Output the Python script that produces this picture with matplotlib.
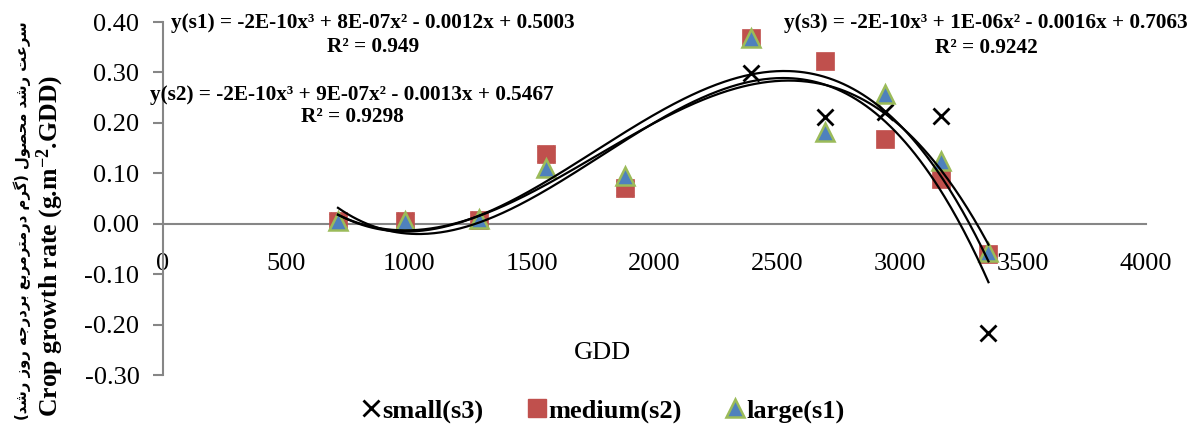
import numpy as np
import matplotlib
matplotlib.use("Agg")
import matplotlib.pyplot as plt
from matplotlib.ticker import FuncFormatter
from matplotlib.lines import Line2D

# ---- data -------------------------------------------------------------
gdd = [712, 985, 1286, 1557, 1878, 2391, 2692, 2936, 3164, 3359]
small_s3 = [0.005, 0.005, 0.008, 0.139, 0.070, 0.298, 0.212, 0.222, 0.214, -0.216]
medium_s2 = [0.005, 0.005, 0.008, 0.139, 0.070, 0.368, 0.322, 0.168, 0.089, -0.060]
large_s1 = [0.006, 0.005, 0.010, 0.111, 0.094, 0.368, 0.181, 0.257, 0.124, -0.056]

eq_s1 = ["y(s1) = -2E-10x³ + 8E-07x² - 0.0012x + 0.5003", "R² = 0.949"]
eq_s2 = ["y(s2) = -2E-10x³ + 9E-07x² - 0.0013x + 0.5467", "R² = 0.9298"]
eq_s3 = ["y(s3) = -2E-10x³ + 1E-06x² - 0.0016x + 0.7063", "R² = 0.9242"]

x_ticks = [0, 500, 1000, 1500, 2000, 2500, 3000, 3500, 4000]
y_ticks = [-0.30, -0.20, -0.10, 0.00, 0.10, 0.20, 0.30, 0.40]

ylabel_fa = "سرعت رشد محصول (گرم درمترمربع بردرجه روز رشد)"
ylabel_en = r"Crop growth rate (g.m$^{\mathbf{-2}}$.GDD)"
xlabel = "GDD"

# ---- Persian shaping (presentation forms, visual order) ---------------
FORMS = {
    'ب': ('\uFE8F', '\uFE90', '\uFE91', '\uFE92'),
    'ت': ('\uFE95', '\uFE96', '\uFE97', '\uFE98'),
    'ج': ('\uFE9D', '\uFE9E', '\uFE9F', '\uFEA0'),
    'ح': ('\uFEA1', '\uFEA2', '\uFEA3', '\uFEA4'),
    'د': ('\uFEA9', '\uFEAA', None, None),
    'ر': ('\uFEAD', '\uFEAE', None, None),
    'ز': ('\uFEAF', '\uFEB0', None, None),
    'س': ('\uFEB1', '\uFEB2', '\uFEB3', '\uFEB4'),
    'ش': ('\uFEB5', '\uFEB6', '\uFEB7', '\uFEB8'),
    'ص': ('\uFEB9', '\uFEBA', '\uFEBB', '\uFEBC'),
    'ع': ('\uFEC9', '\uFECA', '\uFECB', '\uFECC'),
    'ل': ('\uFEDD', '\uFEDE', '\uFEDF', '\uFEE0'),
    'م': ('\uFEE1', '\uFEE2', '\uFEE3', '\uFEE4'),
    'ه': ('\uFEE9', '\uFEEA', '\uFEEB', '\uFEEC'),
    'و': ('\uFEED', '\uFEEE', None, None),
    'گ': ('\uFB92', '\uFB93', '\uFB94', '\uFB95'),
}


def shape_rtl(text):
    out = []
    for i, c in enumerate(text):
        if c not in FORMS:
            out.append(c)
            continue
        prev = text[i - 1] if i > 0 else ''
        nxt = text[i + 1] if i + 1 < len(text) else ''
        iso, fin, ini, med = FORMS[c]
        joins_prev = prev in FORMS and FORMS[prev][2] is not None
        joins_next = nxt in FORMS and ini is not None
        if joins_prev and joins_next:
            out.append(med)
        elif joins_prev:
            out.append(fin)
        elif joins_next:
            out.append(ini)
        else:
            out.append(iso)
    mirror = {'(': ')', ')': '('}
    return ''.join(mirror.get(ch, ch) for ch in reversed(out))


# ---- style ------------------------------------------------------------
plt.rcParams['font.family'] = ['Liberation Serif', 'DejaVu Sans']
plt.rcParams['mathtext.fontset'] = 'custom'
plt.rcParams['mathtext.rm'] = 'Liberation Serif'
plt.rcParams['mathtext.bf'] = 'Liberation Serif:bold'
plt.rcParams['mathtext.default'] = 'bf'

RED = '#C0504D'
BLUE = '#4F81BD'
GREEN = '#9BBB59'
AXIS_GREY = '#868686'
TICK_FS = 19

W, H = 1193, 426
fig = plt.figure(figsize=(W / 100, H / 100), dpi=100)
left, right, top, bottom = 163, 1146, 22, 375
ax = fig.add_axes([left / W, 1 - bottom / H, (right - left) / W, (bottom - top) / H])

ax.set_xlim(0, 4000)
ax.set_ylim(-0.30, 0.40)

# scatter series (drawn small, then medium, then large on top)
ax.plot(gdd, small_s3, linestyle='none', marker='x', markersize=12,
        markeredgewidth=2.0, color='black', zorder=3)
ax.plot(gdd, medium_s2, linestyle='none', marker='s', markersize=12.5,
        markerfacecolor=RED, markeredgecolor=RED, markeredgewidth=0.5, zorder=4)
ax.plot(gdd, large_s1, linestyle='none', marker='^', markersize=13,
        markerfacecolor=BLUE, markeredgecolor=GREEN, markeredgewidth=1.8, zorder=5)

# third-order polynomial trendlines
xx = np.linspace(min(gdd), max(gdd), 400)
for series in (large_s1, medium_s2, small_s3):
    coef = np.polyfit(gdd, series, 3)
    ax.plot(xx, np.polyval(coef, xx), color='black', lw=1.6, zorder=6)

# axes styling
for s in ('top', 'right'):
    ax.spines[s].set_visible(False)
ax.spines['bottom'].set_position(('data', 0))
for s in ('left', 'bottom'):
    ax.spines[s].set_color(AXIS_GREY)
    ax.spines[s].set_linewidth(1.5)

ax.set_xticks(x_ticks)
ax.set_yticks(y_ticks)
ax.xaxis.set_major_formatter(FuncFormatter(lambda v, p: f"{v:.0f}"))
ax.yaxis.set_major_formatter(FuncFormatter(lambda v, p: f"{v:.2f}"))
ax.tick_params(axis='x', length=0, pad=21, labelsize=TICK_FS)
ax.tick_params(axis='y', direction='out', length=7, width=1.5, color=AXIS_GREY,
               pad=10, labelsize=TICK_FS)

ax.text(1790, -0.256, xlabel, fontsize=TICK_FS, ha='center', va='center')

# equations
eq_kw = dict(fontsize=15.3, fontweight='bold', ha='center', va='center',
             transform=fig.transFigure, zorder=10)
for lines, (cx, y1, y2) in ((eq_s1, (373, 23, 47)),
                            (eq_s2, (352, 95, 117)),
                            (eq_s3, (986, 23, 48))):
    fig.text(cx / W, 1 - y1 / H, lines[0], **eq_kw)
    fig.text(cx / W, 1 - y2 / H, lines[1], **eq_kw)

# axis titles
fig.text(50 / W, 1 - 246 / H, ylabel_en, rotation=90, fontsize=18.5,
         fontweight='bold', ha='center', va='center')
fa = fig.text(22 / W, 1 - 221 / H, shape_rtl(ylabel_fa), rotation=90,
              fontsize=14, fontweight='bold', ha='center', va='center',
              family=['DejaVu Sans'])
renderer = fig.canvas.get_renderer()
span = fa.get_window_extent(renderer).height
fa.set_fontsize(14 * 400 / span)

# legend
handles = [
    Line2D([], [], linestyle='none', marker='x', markersize=12,
           markeredgewidth=2.0, color='black'),
    Line2D([], [], linestyle='none', marker='s', markersize=12.5,
           markerfacecolor=RED, markeredgecolor=RED),
    Line2D([], [], linestyle='none', marker='^', markersize=13,
           markerfacecolor=BLUE, markeredgecolor=GREEN, markeredgewidth=1.8),
]
fig.legend(handles, ['small(s3)', 'medium(s2)', 'large(s1)'],
           loc='center', bbox_to_anchor=(603 / W, 1 - 411 / H), ncol=3,
           frameon=False, prop={'weight': 'bold', 'size': 19},
           handlelength=0.75, handletextpad=0.05, columnspacing=1.65,
           borderaxespad=0)

fig.savefig('out.png', dpi=100)
